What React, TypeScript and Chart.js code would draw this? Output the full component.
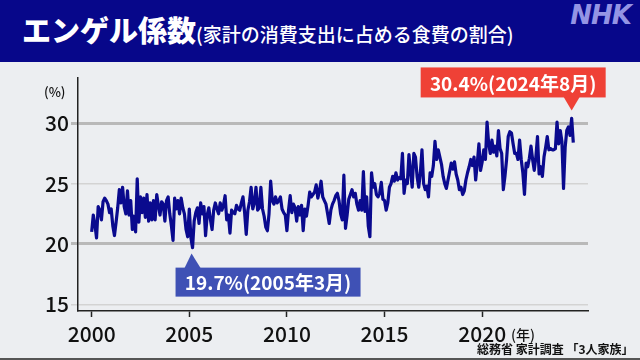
import React, { useEffect, useRef } from "react";
import { Chart, registerables } from "chart.js";

Chart.register(...registerables);

// Monthly Engel coefficient (%), Jan 2000 – Sep 2024
const START_YEAR = 2000;
const engel2000s = [
  21.0, 22.4, 21.6, 20.5, 23.1, 22.8, 22.0, 23.5, 23.8, 23.6, 23.3, 22.6,
  22.9, 21.5, 20.7, 21.8, 23.0, 24.5, 23.4, 24.7, 23.1, 22.5, 24.4, 22.4,
  23.6, 21.2, 22.3, 21.0, 25.4, 21.8, 23.9, 22.6, 23.8, 22.2, 24.1, 21.9,
  23.4, 22.0, 23.6, 22.0, 24.1, 23.2, 22.4, 23.5, 23.3, 21.9, 23.6, 23.9,
  22.5, 21.5, 20.3, 23.8, 22.9, 23.6, 22.5, 23.8, 23.0, 22.5, 21.2, 20.6,
  22.9, 20.5, 19.7, 21.9, 22.6, 23.0, 21.7, 23.4, 22.5, 23.1, 20.7, 22.4,
  23.0, 22.0, 21.2, 22.8, 23.4, 22.9, 22.5, 23.4, 22.8, 23.2, 24.0, 22.0,
  22.4, 20.9, 22.8, 22.6, 22.5, 23.2, 22.9, 22.8, 23.4, 23.9, 22.6, 20.8,
  22.8, 23.5, 24.7, 22.9, 23.4, 24.7, 22.8, 23.0, 24.7, 22.9, 22.3, 21.4,
  21.1, 22.5, 25.2, 23.6, 23.3, 23.9, 23.4, 23.6, 23.9, 22.9, 22.6, 22.4,
];
const engel2010s = [
  21.1, 22.8, 24.0, 22.6, 23.3, 23.0, 21.9, 23.1, 22.4, 23.2, 21.1, 22.9,
  22.3, 23.2, 24.3, 23.9, 24.1, 24.3, 24.9, 23.8, 24.4, 25.2, 23.9, 23.6,
  23.3, 22.5, 21.7, 22.8, 23.3, 23.6, 24.0, 24.2, 23.6, 22.5, 22.0, 25.7,
  21.3, 22.4, 23.7, 24.1, 24.5, 23.9, 24.2, 23.3, 22.8, 23.6, 22.8, 26.0,
  22.7, 23.9, 21.5, 20.6, 25.9, 24.7, 25.0, 24.1, 23.9, 24.2, 25.1, 23.7,
  23.6, 22.8, 23.4, 24.7, 25.0, 25.6, 25.2, 25.9, 25.3, 25.5, 25.4, 27.5,
  24.2, 25.3, 25.0, 27.4, 26.0, 24.7, 27.5, 27.2, 25.6, 24.7, 25.9, 27.8,
  25.0, 24.5, 24.8, 23.9, 25.9, 25.6, 26.5, 28.5, 27.0, 27.8, 27.2, 26.6,
  25.6, 25.0, 24.6, 25.3, 26.0, 26.7, 26.2, 26.8, 25.8, 25.3, 24.5, 24.7,
  24.1, 24.4, 25.3, 25.9, 26.4, 27.0, 26.5, 27.2, 25.3, 26.7, 28.3, 26.1,
];
const engel2020s = [
  26.8, 27.8, 27.0, 30.1, 28.3, 27.5, 28.6, 27.6, 28.1, 27.3, 29.4, 27.9,
  27.5, 24.5, 25.6, 27.0, 28.9, 29.3, 29.2, 28.3, 27.5, 27.5, 27.0, 28.6,
  27.0, 25.9, 24.1, 26.7, 26.4, 27.1, 28.1, 27.0, 26.1, 27.2, 28.9, 25.8,
  26.4, 25.6, 27.2, 28.0, 28.9, 27.8, 27.9, 27.8, 27.8, 27.9, 30.1, 28.3,
  29.4, 28.5, 24.6, 28.0, 29.4, 29.7, 29.0, 30.4, 28.4,
];
const xTicks = [2000, 2005, 2010, 2015, 2020];
const yTicks = [15, 20, 25, 30];

const monthlyValues = [...engel2000s, ...engel2010s, ...engel2020s];
const points = monthlyValues.map((v, i) => ({ x: START_YEAR + i / 12, y: v }));

const FONT = "'Noto Sans CJK JP', 'Noto Sans', sans-serif";

const labelFor = (i: number) =>
  `${monthlyValues[i].toFixed(1)}%(${START_YEAR + Math.floor(i / 12)}年${(i % 12) + 1}月)`;

const calloutPlugin = {
  id: "callouts",
  afterDatasetsDraw(chart: any) {
    const ctx = chart.ctx as CanvasRenderingContext2D;
    const xs = chart.scales.x;
    const ys = chart.scales.y;
    let maxI = 0;
    let minI = 0;
    monthlyValues.forEach((v, i) => {
      if (v > monthlyValues[maxI]) maxI = i;
      if (v < monthlyValues[minI]) minI = i;
    });
    ctx.save();
    // maximum callout (red, above)
    {
      const px = xs.getPixelForValue(points[maxI].x);
      const py = ys.getPixelForValue(points[maxI].y);
      const w = 185, h = 30;
      const left = px - 151;
      const top = py - 51;
      ctx.fillStyle = "#ef4136";
      ctx.fillRect(left, top, w, h);
      ctx.beginPath();
      ctx.moveTo(px - 8, top + h - 0.5);
      ctx.lineTo(px + 8, top + h - 0.5);
      ctx.lineTo(px, py - 8);
      ctx.closePath();
      ctx.fill();
      ctx.fillStyle = "#ffffff";
      ctx.font = `bold 19px ${FONT}`;
      ctx.textAlign = "center";
      ctx.textBaseline = "middle";
      ctx.fillText(labelFor(maxI), left + w / 2, top + h / 2 + 1);
    }
    // minimum callout (blue, below)
    {
      const px = xs.getPixelForValue(points[minI].x);
      const py = ys.getPixelForValue(points[minI].y);
      const w = 185, h = 29;
      const left = px - 17;
      const top = py + 20;
      ctx.fillStyle = "#3f51b5";
      ctx.fillRect(left, top, w, h);
      ctx.beginPath();
      ctx.moveTo(px - 8, top + 0.5);
      ctx.lineTo(px + 8, top + 0.5);
      ctx.lineTo(px - 1, py + 6);
      ctx.closePath();
      ctx.fill();
      ctx.fillStyle = "#ffffff";
      ctx.font = `bold 19px ${FONT}`;
      ctx.textAlign = "center";
      ctx.textBaseline = "middle";
      ctx.fillText(labelFor(minI), left + w / 2, top + h / 2 + 1);
    }
    ctx.restore();
  },
};

export default function App() {
  const canvasRef = useRef<HTMLCanvasElement | null>(null);

  useEffect(() => {
    if (!canvasRef.current) return;
    const chart = new Chart(canvasRef.current, {
      type: "line",
      data: {
        datasets: [
          {
            data: points,
            borderColor: "#0a0a8e",
            borderWidth: 3.2,
            pointRadius: 0,
            tension: 0,
            borderJoinStyle: "round",
          },
        ],
      },
      options: {
        responsive: false,
        animation: false,
        devicePixelRatio: 1,
        layout: { padding: { left: 0, right: 52, top: 78, bottom: 0 } },
        plugins: { legend: { display: false }, tooltip: { enabled: false } },
        scales: {
          x: {
            type: "linear",
            min: 1999.3,
            max: 2025.42,
            afterBuildTicks: (s: any) => {
              s.ticks = xTicks.map((v) => ({ value: v }));
            },
            afterFit: (s: any) => {
              s.height = 49;
            },
            ticks: {
              autoSkip: false,
              maxRotation: 0,
              padding: 4,
              color: "#111111",
              font: { family: FONT, size: 21, weight: "500" },
              callback: (v: any) => String(v),
            },
            grid: {
              drawOnChartArea: false,
              drawTicks: true,
              tickLength: 6,
              tickColor: "#222222",
              tickWidth: 1.5,
            },
            border: { display: true, color: "#222222", width: 1.5 },
          },
          y: {
            type: "linear",
            min: 14.45,
            max: 33.75,
            afterBuildTicks: (s: any) => {
              s.ticks = yTicks.map((v) => ({ value: v }));
            },
            afterFit: (s: any) => {
              s.width = 78;
            },
            ticks: {
              autoSkip: false,
              padding: 2,
              color: "#111111",
              font: { family: FONT, size: 21, weight: "500" },
              callback: (v: any) => String(v),
            },
            grid: {
              color: (c: any) =>
                c.tick && (c.tick.value === 30 || c.tick.value === 20) ? "#b9b9b9" : "#d3d3d3",
              lineWidth: (c: any) =>
                c.tick && (c.tick.value === 30 || c.tick.value === 20) ? 3 : 1.5,
              tickLength: 7,
            },
            border: { display: true, color: "#222222", width: 1.5 },
          },
        },
      },
      plugins: [calloutPlugin],
    } as any);
    return () => chart.destroy();
  }, []);

  return (
    <div
      style={{
        position: "absolute",
        left: 0,
        top: 0,
        width: 640,
        height: 360,
        background: "#eceef1",
        overflow: "hidden",
        fontFamily: FONT,
      }}
    >
      <canvas
        ref={canvasRef}
        width={640}
        height={360}
        style={{ position: "absolute", left: 0, top: 0, width: 640, height: 360 }}
      />
      <div
        style={{
          position: "absolute",
          left: 0,
          top: 0,
          width: 640,
          height: 62,
          background: "#07078a",
        }}
      >
        <div
          style={{
            position: "absolute",
            left: 22,
            top: 6,
            color: "#ffffff",
            whiteSpace: "nowrap",
            lineHeight: "46px",
          }}
        >
          <span style={{ fontSize: 29, fontWeight: 900 }}>エンゲル係数</span>
          <span style={{ fontSize: 19, fontWeight: 500 }}>(家計の消費支出に占める食費の割合)</span>
        </div>
        <div
          style={{
            position: "absolute",
            right: 9,
            top: 0,
            color: "#9494e4",
            fontFamily: "'DejaVu Sans', sans-serif",
            fontWeight: 700,
            fontStyle: "italic",
            fontSize: 26,
            letterSpacing: -1,
          }}
        >
          NHK
        </div>
      </div>
      <div
        style={{
          position: "absolute",
          left: 44,
          top: 82,
          fontSize: 13,
          color: "#111",
          fontWeight: 500,
        }}
      >
        (%)
      </div>
      <div
        style={{
          position: "absolute",
          left: 511,
          top: 324,
          fontSize: 14,
          color: "#111",
          fontWeight: 500,
        }}
      >
        (年)
      </div>
      <div
        style={{
          position: "absolute",
          left: 477,
          top: 340,
          fontSize: 12,
          color: "#111",
          fontWeight: 700,
          whiteSpace: "nowrap",
        }}
      >
        総務省 家計調査 「3人家族」
      </div>
      <div
        style={{
          position: "absolute",
          left: 0,
          top: 358,
          width: 640,
          height: 2,
          background: "#555",
        }}
      />
    </div>
  );
}
